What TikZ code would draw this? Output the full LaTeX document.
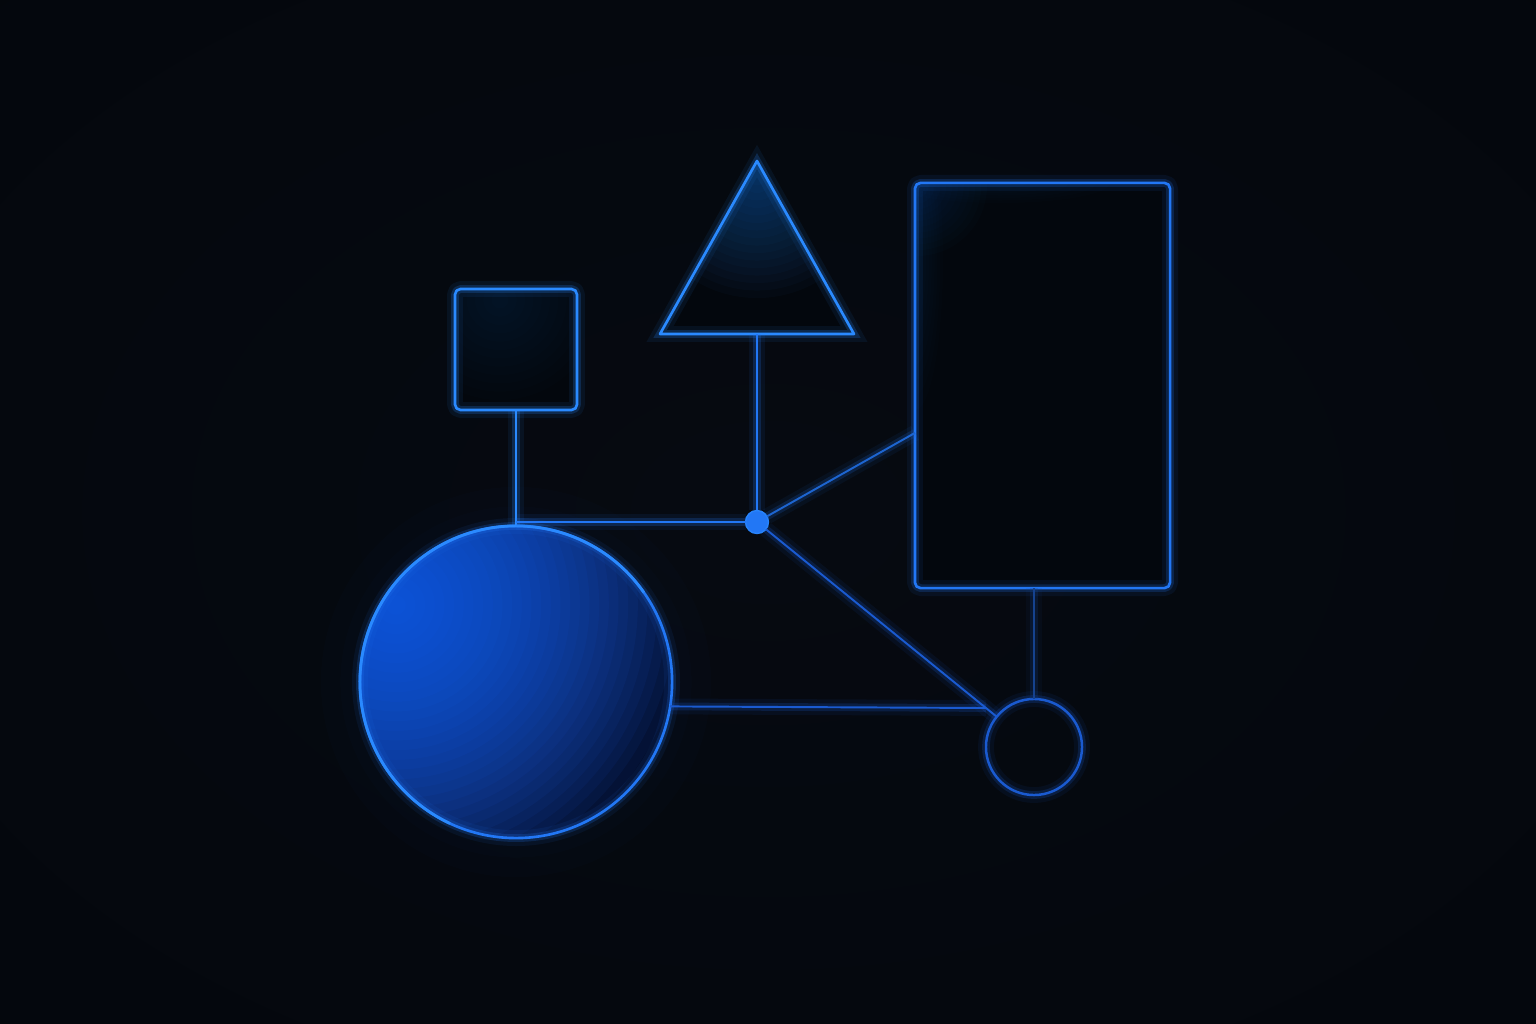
\documentclass[tikz,border=0pt]{standalone}
\usetikzlibrary{calc}
\definecolor{bgc}{HTML}{060A11}
\definecolor{bgm}{HTML}{03050A}
\definecolor{bge}{HTML}{010204}
\definecolor{neon}{HTML}{2A8AFF}
\definecolor{neonb}{HTML}{2277F5}
\definecolor{dimline}{HTML}{1A5AD0}
\definecolor{dimmer}{HTML}{15428F}
\definecolor{balltop}{HTML}{1C68FF}
\definecolor{ballbase}{HTML}{030D2A}
\definecolor{infill}{HTML}{03070D}
\pgfdeclareradialshading{bgshade}{\pgfpoint{0bp}{0bp}}{color(0bp)=(bgc); color(25bp)=(bgc!60!bgm); color(50bp)=(bgm); color(75bp)=(bge); color(100bp)=(bge)}
\newcommand{\glowspot}[5]{%
  \foreach \gi in {1,...,#4}{%
    \pgfmathsetmacro{\grr}{#2*\gi/#4}%
    \fill[#3, opacity=#5] (#1) circle (\grr cm);%
  }}
\newcommand{\glowell}[6]{%
  \foreach \gi in {1,...,#5}{%
    \pgfmathsetmacro{\grx}{#2*\gi/#5}%
    \pgfmathsetmacro{\gry}{#3*\gi/#5}%
    \fill[#4, opacity=#6] (#1) ellipse ({\grx cm} and {\gry cm});%
  }}
\tikzset{
  x=0.01cm, y=-0.01cm,
  glow/.style={preaction={draw=#1,line width=4.5pt,opacity=0.08},
               preaction={draw=#1,line width=2.2pt,opacity=0.20},
               draw=#1},
  shapeline/.style={line width=0.75pt, line join=round},
  link/.style={line width=0.55pt},
  sqbox/.style={rectangle, rounded corners=1.6pt, inner sep=0pt, outer sep=0pt,
                minimum width=1.22cm, minimum height=1.21cm, shapeline, glow=neon},
  tallbox/.style={rectangle, rounded corners=1.6pt, inner sep=0pt, outer sep=0pt,
                minimum width=2.55cm, minimum height=4.05cm, shapeline, glow=neonb},
  ball/.style={circle, inner sep=0pt, outer sep=0pt, minimum size=3.12cm,
               shapeline, glow=neonb},
  ring/.style={circle, inner sep=0pt, outer sep=0pt, minimum size=0.96cm,
               line width=0.7pt, glow=dimline},
  hubdot/.style={circle, inner sep=0pt, outer sep=0pt, minimum size=0.23cm,
               fill=neonb, draw=neon!70!neonb, line width=0.4pt},
}
\begin{document}
\begin{tikzpicture}
\useasboundingbox (0,0) rectangle (1536,1024);
\shade[shading=bgshade] (0,0) rectangle (1536,1024);

% ---- big circle: halo, gradient body
\coordinate (bcc) at (516,682);
\glowspot{bcc}{1.95}{neonb}{10}{0.016}
\begin{scope}
  \clip (bcc) circle (1.56cm);
  \fill[ballbase] (bcc) circle (1.6cm);
  \coordinate (hot) at (396,605);
  \glowspot{hot}{2.9}{balltop}{30}{0.06}
\end{scope}
\node[ball] (bc) at (bcc) {};
\draw[neon, line width=0.8pt] (bcc) ++(35:1.56cm) arc[start angle=35, end angle=245, radius=1.56cm];

% ---- small square
\begin{scope}
  \clip[rounded corners=1.6pt] (455,289) rectangle (577,410);
  \fill[infill] (455,289) rectangle (577,410);
  \coordinate (sqg) at (500,300);
  \glowspot{sqg}{1.0}{neon}{12}{0.010}
\end{scope}
\node[sqbox] (sq) at (516,349.5) {};

% ---- tall rectangle
\begin{scope}
  \clip[rounded corners=1.6pt] (915,183) rectangle (1170,588);
  \fill[infill] (915,183) rectangle (1170,588);
  \coordinate (rcg) at (917,186);
  \glowspot{rcg}{0.7}{neon}{12}{0.014}
  \coordinate (rcg2) at (915,260);
  \glowell{rcg2}{0.28}{1.5}{neon}{10}{0.013}
  \coordinate (rcg3) at (1000,183);
  \glowell{rcg3}{1.1}{0.2}{neon}{8}{0.010}
\end{scope}
\node[tallbox] (rc) at (1042.5,385.5) {};

% ---- triangle
\coordinate (ta) at (757,161);
\coordinate (tl) at (660,334);
\coordinate (tr) at (854,334);
\coordinate (tb) at (757,334);
\begin{scope}
  \clip (ta) -- (tr) -- (tl) -- cycle;
  \fill[infill] (ta) -- (tr) -- (tl) -- cycle;
  \coordinate (tg) at (757,178);
  \glowspot{tg}{1.2}{neon}{16}{0.026}
\end{scope}
\draw[shapeline, glow=neon] (ta) -- (tr) -- (tl) -- cycle;

% ---- small circle and hub
\node[ring] (sc) at (1034,747) {};
\node[hubdot] (hub) at (757,522) {};

% ---- connectors
\coordinate (j1) at (sq.south |- hub);
\coordinate (rl) at ($(rc.north west)!0.617!(rc.south west)$);
\coordinate (bx) at ($(hub)!0.8267!(sc.center)$);
\coordinate (rb) at (sc |- rc.south);

\draw[link, line width=0.75pt, glow=neon] (sq.south) -- (bc.north);
\draw[link, glow=neonb] (j1) -- (hub.west);
\draw[link, glow=neonb] (tb) -- (hub.north);
\draw[link, glow=neonb!85!black] (hub) -- (rl);
\draw[link, glow=dimline] (hub) -- (sc);
\draw[link, glow=dimline] (bc.-9.6) -- (bx);
\draw[link, line width=0.45pt, glow=dimmer] (rb) -- (sc.north);
\end{tikzpicture}
\end{document}
